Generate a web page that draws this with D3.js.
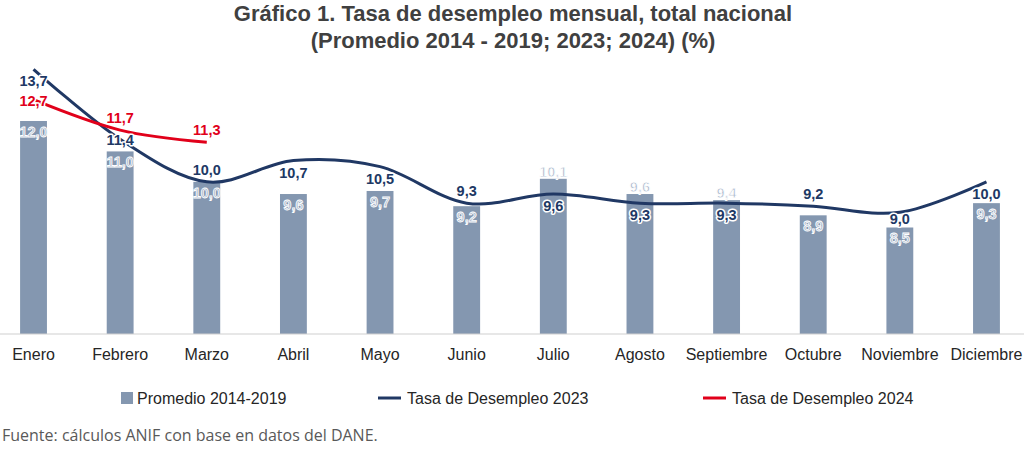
<!DOCTYPE html>
<html>
<head>
<meta charset="utf-8">
<script src="https://cdn.jsdelivr.net/npm/d3@7"></script>
<style>
  body { margin: 0; background: #fff; }
  svg { display: block; font-family: "Liberation Sans", Arial, sans-serif; }
</style>
</head>
<body>
<svg width="1024" height="451"></svg>
<script>
// data
const months = ["Enero", "Febrero", "Marzo", "Abril", "Mayo", "Junio", "Julio",
                "Agosto", "Septiembre", "Octubre", "Noviembre", "Diciembre"];
const avg1419 = [12.0, 11.0, 10.0, 9.6, 9.7, 9.2, 10.1, 9.6, 9.4, 8.9, 8.5, 9.3];
const rate2023 = [13.7, 11.4, 10.0, 10.7, 10.5, 9.3, 9.6, 9.3, 9.3, 9.2, 9.0, 10.0];
const rate2024 = [12.7, 11.7, 11.3];

// where each data label sits (relative to its point)
const barLabelPos = ["in", "in", "in", "in", "in", "in", "out", "out", "out", "in", "in", "in"];
const pos2023 = ["below", "center", "above", "below", "below", "above",
                 "below", "below", "below", "above", "near", "below"];
const pos2024 = ["center", "above", "above"];

const barColor = "#8497b0";
const barText = "#aab8cc";
const navy = "#203864";
const red = "#e1001a";

const svg = d3.select("svg");
const fmt = v => d3.format(".1f")(v).replace(".", ",");

const baseY = 334;

const x = d3.scaleBand()
    .domain(months)
    .range([-9.8, 1029.8])
    .paddingInner(0.69)
    .paddingOuter(0.345);
const cx = m => x(m) + x.bandwidth() / 2;

const y = d3.scaleLinear()
    .domain([5, 16])
    .range([baseY, baseY - 11 * 30.43]);

// Title
const title = svg.append("text")
    .attr("text-anchor", "middle")
    .attr("font-size", "22px")
    .attr("font-weight", "bold")
    .attr("fill", "#404040");
title.append("tspan").attr("x", 513).attr("y", 21)
    .text("Gráfico 1. Tasa de desempleo mensual, total nacional");
title.append("tspan").attr("x", 513).attr("y", 48)
    .text("(Promedio 2014 - 2019; 2023; 2024) (%)");

// Bars
svg.append("g").selectAll("rect")
    .data(avg1419)
    .join("rect")
    .attr("x", (d, i) => x(months[i]))
    .attr("y", d => y(d))
    .attr("width", x.bandwidth())
    .attr("height", d => baseY - y(d))
    .attr("fill", barColor);

// baseline
svg.append("line")
    .attr("x1", 0).attr("x2", 1024)
    .attr("y1", baseY).attr("y2", baseY)
    .attr("stroke", "#d0d0d0")
    .attr("stroke-width", 1.2);

// X axis labels
const xAxis = svg.append("g")
    .attr("transform", `translate(0, ${baseY})`)
    .call(d3.axisBottom(x).tickSize(0).tickPadding(15));
xAxis.select(".domain").remove();
xAxis.selectAll("text")
    .attr("font-size", "16px")
    .attr("font-family", "Liberation Sans, Arial, sans-serif")
    .attr("fill", "#262626");

// Lines
const line = d3.line()
    .x((d, i) => cx(months[i]))
    .y(d => y(d))
    .curve(d3.curveCardinal.tension(0));

svg.append("path")
    .datum(rate2023)
    .attr("fill", "none")
    .attr("stroke", navy)
    .attr("stroke-width", 3)
    .attr("d", line);

svg.append("path")
    .datum(rate2024)
    .attr("fill", "none")
    .attr("stroke", red)
    .attr("stroke-width", 3)
    .attr("d", line);

// Bar labels
svg.append("g").selectAll("text")
    .data(avg1419)
    .join("text")
    .attr("x", (d, i) => cx(months[i]))
    .attr("y", (d, i) => barLabelPos[i] === "in" ? y(d) + 16 : y(d) - 2)
    .attr("text-anchor", "middle")
    .attr("font-size", "14.5px")
    .attr("font-weight", "bold")
    .attr("fill", barText)
    .attr("stroke", "#fff")
    .attr("stroke-width", 0.8)
    .text(d => fmt(d));

// Line labels
const offs = {above: -7, center: 6, near: 12, below: 17};
function lineLabels(data, pos, color) {
    svg.append("g").selectAll("text")
        .data(data)
        .join("text")
        .attr("x", (d, i) => cx(months[i]))
        .attr("y", (d, i) => y(d) + offs[pos[i]])
        .attr("text-anchor", "middle")
        .attr("font-size", "14.5px")
        .attr("font-weight", "bold")
        .attr("fill", color)
        .attr("stroke", "#fff")
        .attr("stroke-width", 3)
        .attr("stroke-linejoin", "round")
        .attr("paint-order", "stroke")
        .text(d => fmt(d));
}
lineLabels(rate2023, pos2023, navy);
lineLabels(rate2024, pos2024, red);

// Legend
const legend = svg.append("g")
    .attr("font-size", "16px")
    .attr("fill", "#262626");

legend.append("rect")
    .attr("x", 121).attr("y", 392)
    .attr("width", 12).attr("height", 12)
    .attr("fill", barColor);
legend.append("text").attr("x", 137).attr("y", 404).text("Promedio 2014-2019");

legend.append("line")
    .attr("x1", 378).attr("x2", 401).attr("y1", 398).attr("y2", 398)
    .attr("stroke", navy).attr("stroke-width", 3);
legend.append("text").attr("x", 407).attr("y", 404).text("Tasa de Desempleo 2023");

legend.append("line")
    .attr("x1", 703).attr("x2", 726).attr("y1", 398).attr("y2", 398)
    .attr("stroke", red).attr("stroke-width", 3);
legend.append("text").attr("x", 732).attr("y", 404).text("Tasa de Desempleo 2024");

// Source
svg.append("text")
    .attr("x", 2)
    .attr("y", 441)
    .attr("font-size", "16px")
    .attr("font-family", "Open Sans, sans-serif")
    .attr("fill", "#595959")
    .text("Fuente: cálculos ANIF con base en datos del DANE.");
</script>
</body>
</html>
